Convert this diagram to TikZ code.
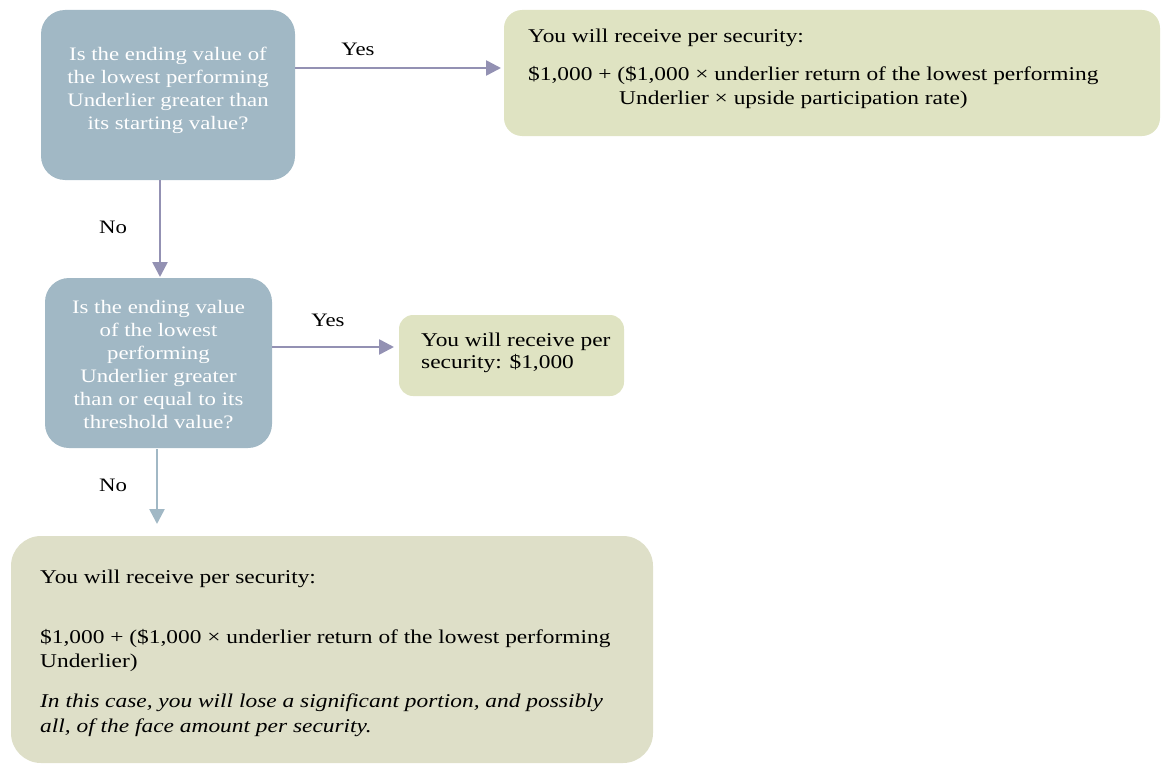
\documentclass[tikz,border=0pt]{standalone}
\usepackage{fontspec}
\setmainfont{Liberation Serif}[FakeStretch=1.2]
\usetikzlibrary{arrows.meta}
\definecolor{qblue}{HTML}{A1B8C5}
\definecolor{agreen}{HTML}{DFE3C2}
\definecolor{bgreen}{HTML}{DEDFC8}
\definecolor{arrowc}{HTML}{9391B3}
\definecolor{arrowb}{HTML}{A1B8C5}
\tikzset{
  qbox/.style={fill=qblue, rounded corners=24pt, draw=none},
  abox/.style={fill=agreen, rounded corners=18pt, draw=none},
  cbox/.style={fill=bgreen, rounded corners=30pt, draw=none},
  qtext/.style={text=white, align=center, font=\fontsize{19}{23}\selectfont, inner sep=0pt},
  atext/.style={text=black, align=left, font=\fontsize{19.5}{23}\selectfont, inner sep=0pt, anchor=base west},
  lbl/.style={text=black, font=\fontsize{19}{23}\selectfont, inner sep=0pt},
  yesbg/.style={fill=white, inner sep=0pt, draw=none},
  conn/.style={draw=arrowc, line width=2.6pt, -{Triangle[width=15pt,length=15pt]}},
  connb/.style={draw=arrowb, line width=2.6pt, -{Triangle[width=15pt,length=15pt]}},
}
\begin{document}
\begin{tikzpicture}[x=1pt,y=-1pt]
\useasboundingbox (0,0) rectangle (1174,776);
% boxes
\path[qbox] (41,10) rectangle (295,180);
\node (q1) [minimum width=254pt, minimum height=170pt, inner sep=0pt] at (168,95) {};
\node (q1t) [qtext, anchor=north] at (168,47) {Is the ending value of\\the lowest performing\\Underlier greater than\\its starting value?};

\path[abox] (504,10) rectangle (1160,136);
\node (a1) [minimum width=656pt, minimum height=126pt, inner sep=0pt] at (832,73) {};
\node (a1l1) [atext] at (528,43) {You will receive per security:};
\node (a1l2) [atext] at (528,81) {\$1,000 + (\$1,000 × underlier return of the lowest performing};
\node (a1l3) [atext] at (619,104) {Underlier × upside participation rate)};

\path[qbox] (45,278) rectangle (272,448);
\node (q2) [minimum width=227pt, minimum height=170pt, inner sep=0pt] at (158.5,363) {};
\node (q2t) [qtext, anchor=north] at (158.5,300) {Is the ending value\\of the lowest\\performing\\Underlier greater\\than or equal to its\\threshold value?};

\path[abox, rounded corners=14pt] (399,315) rectangle (624,396);
\node (a2) [minimum width=225pt, minimum height=81pt, inner sep=0pt] at (511.5,355.5) {};
\node (a2t) [atext] at (421,346) {You will receive per};
\node (a2t2) [atext] at (421,368) {security: \$1,000};

\path[cbox] (11,536) rectangle (653,763);
\node (c) [minimum width=642pt, minimum height=227pt, inner sep=0pt] at (332,649.5) {};
\node (c1) [atext] at (40,583) {You will receive per security:};
\node (c2) [atext] at (40,643) {\$1,000 + (\$1,000 × underlier return of the lowest performing};
\node (c3) [atext] at (40,667) {Underlier)};
\node (c4) [atext, font=\fontsize{19.5}{23}\selectfont\itshape] at (40,707) {In this case, you will lose a significant portion, and possibly};
\node (c5) [atext, font=\fontsize{19.5}{23}\selectfont\itshape] at (40,732) {all, of the face amount per security.};

% connectors
\coordinate (y1s) at (295,68);
\coordinate (y1e) at (501,68);
\draw[conn] (y1s) -- (y1e);
\node (yes1bg) [yesbg, minimum width=86pt, minimum height=36pt] at (367,47) {};
\node (yes1) [lbl] at (358,49) {Yes};

\coordinate (n1s) at (160,180);
\coordinate (n1e) at (160,277);
\draw[conn] (n1s) -- (n1e);
\node (no1) [lbl] at (113,227) {No};

\coordinate (y2s) at (272,347);
\coordinate (y2e) at (394,347);
\draw[conn] (y2s) -- (y2e);
\node (yes2bg) [yesbg, minimum width=86pt, minimum height=36pt] at (340,318) {};
\node (yes2) [lbl] at (328,320) {Yes};

\coordinate (n2s) at (157,449);
\coordinate (n2e) at (157,524);
\draw[connb] (n2s) -- (n2e);
\node (no2) [lbl] at (113,485) {No};
\end{tikzpicture}
\end{document}
